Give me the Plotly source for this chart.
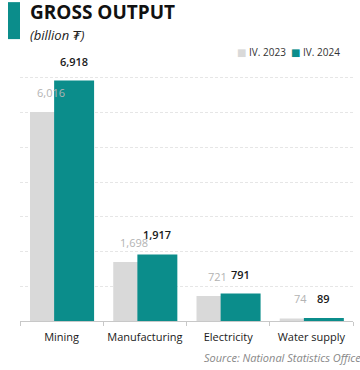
import plotly.graph_objects as go

# Gross output by sector, billion tugrik
categories = ["Mining", "Manufacturing", "Electricity", "Water supply"]
series_names = ["IV. 2023", "IV. 2024"]
values_2023 = [6016, 1698, 721, 74]
values_2024 = [6918, 1917, 791, 89]

GRAY = "#d9d9d9"
TEAL = "#0b8d8b"
FONT = "Open Sans, DejaVu Sans, sans-serif"

fig = go.Figure()
fig.add_trace(go.Bar(
    x=categories, y=values_2023, name=series_names[0],
    marker=dict(color=GRAY, line=dict(width=0)),
    width=0.48, offset=-0.38, hoverinfo="x+y",
))
fig.add_trace(go.Bar(
    x=categories, y=values_2024, name=series_names[1],
    marker=dict(color=TEAL, line=dict(width=0)),
    width=0.48, offset=-0.09, hoverinfo="x+y",
))

annotations = []
# value labels above each bar
for cat, v in zip(categories, values_2023):
    annotations.append(dict(
        x=cat, y=v, xref="x", yref="y", text=f"{v:,}", showarrow=False,
        xshift=-11, yshift=10, yanchor="bottom", xanchor="center",
        font=dict(family=FONT, size=11, color="#b3b3b3"),
    ))
for cat, v in zip(categories, values_2024):
    annotations.append(dict(
        x=cat, y=v, xref="x", yref="y", text=f"{v:,}", showarrow=False,
        xshift=12, yshift=10, yanchor="bottom", xanchor="center",
        font=dict(family=FONT, size=11, color="#1a1a1a", weight=600),
    ))

# title block
annotations += [
    dict(x=0.024, y=1.112, xref="paper", yref="paper", xanchor="left", yanchor="middle",
         text="<b>GROSS OUTPUT</b>", showarrow=False,
         font=dict(family=FONT, size=19, color="#111111")),
    dict(x=0.024, y=1.030, xref="paper", yref="paper", xanchor="left", yanchor="middle",
         text="<i>(billion ₮)</i>", showarrow=False,
         font=dict(family=FONT, size=13, color="#222222")),
    # legend
    dict(x=0.805, y=0.968, xref="paper", yref="paper", xanchor="right", yanchor="middle",
         text=f"<span style='color:{GRAY}'>■</span> {series_names[0]}", showarrow=False,
         font=dict(family=FONT, size=10, color="#333333")),
    dict(x=0.967, y=0.968, xref="paper", yref="paper", xanchor="right", yanchor="middle",
         text=f"<span style='color:{TEAL}'>■</span> {series_names[1]}", showarrow=False,
         font=dict(family=FONT, size=10, color="#333333")),
    # source
    dict(x=1.03, y=-0.13, xref="paper", yref="paper", xanchor="right", yanchor="middle",
         text="<i>Source: National Statistics Office</i>", showarrow=False,
         font=dict(family=FONT, size=11, color="#888888")),
]

fig.update_layout(
    width=360, height=370,
    margin=dict(l=20, r=7, t=43, b=49),
    paper_bgcolor="white", plot_bgcolor="white",
    barmode="overlay",
    showlegend=False,
    annotations=annotations,
    shapes=[dict(type="rect", xref="paper", yref="paper",
                 x0=-0.036, x1=0.0, y0=1.014, y1=1.147,
                 fillcolor=TEAL, line=dict(width=0))],
    xaxis=dict(
        type="category", showgrid=False, automargin=False, tickangle=0,
        showline=True, linecolor="#c8c8c8", linewidth=1,
        ticks="outside", tickson="boundaries", ticklen=4, tickcolor="#c8c8c8",
        ticklabelstandoff=6,
        tickfont=dict(family=FONT, size=11, color="#1a1a1a"),
    ),
    yaxis=dict(
        range=[0, 8000], dtick=1000, showticklabels=False, automargin=False,
        showgrid=True, gridcolor="#e6e6e6", gridwidth=1, griddash="3px,2px",
        zeroline=False, showline=False,
    ),
)

fig.write_html("out.html")
